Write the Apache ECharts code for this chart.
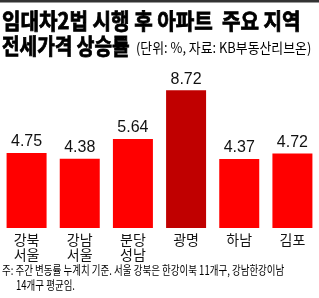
<!DOCTYPE html>
<html><head><meta charset="utf-8">
<style>html,body{margin:0;padding:0;background:#fff}#c{width:319px;height:298px}</style>
<script src="https://cdn.jsdelivr.net/npm/echarts@6/dist/echarts.min.js"></script>
</head><body><div id="c"></div>
<script>
const categories = ['강북\n서울', '강남\n서울', '분당\n성남', '광명', '하남', '김포'];
const values = [4.75, 4.38, 5.64, 8.72, 4.37, 4.72];
const highlight = '광명';
const titleLine1 = '임대차2법 시행 후 아파트  주요 지역';
const titleLine2 = '전세가격 상승률';
const subtitle = '(단위: %, 자료: KB부동산리브온)';
const note1 = '주: 주간 변동률 누계치 기준. 서울 강북은 한강이북 11개구, 강남한강이남';
const note2 = '14개구 평균임.';

const CJK = '"Noto Sans CJK KR", sans-serif';
const chart = echarts.init(document.getElementById('c'), null, {renderer: 'canvas'});
chart.setOption({
  animation: false,
  backgroundColor: '#fff',
  grid: {left: -3, width: 325, top: 70, height: 158, containLabel: false},
  xAxis: {
    type: 'category', data: categories,
    axisLine: {show: false}, axisTick: {show: false},
    axisLabel: {color: '#111', fontSize: 14, fontFamily: CJK, lineHeight: 15, margin: 4, interval: 0}
  },
  yAxis: {type: 'value', min: 0, max: 10, show: false, splitLine: {show: false}},
  series: [{
    type: 'bar', barWidth: 40,
    data: values.map((v, i) => ({value: v, itemStyle: {color: categories[i] === highlight ? '#C00000' : '#FF0000'}})),
    label: {show: true, position: 'top', distance: 3, color: '#111', fontSize: 16, fontFamily: '"Liberation Sans", Arial, sans-serif'}
  }],
  graphic: [
    {type: 'rect', shape: {x: 0, y: 0, width: 319, height: 2.5}, style: {fill: '#333'}},
    {type: 'text', x: 2, y: 21, scaleX: 0.915, style: {text: titleLine1, font: 'bold 22px ' + CJK, fill: '#000', stroke: '#000', lineWidth: 0.8, textVerticalAlign: 'middle'}},
    {type: 'text', x: 2, y: 45.5, scaleX: 0.87, style: {text: titleLine2, font: 'bold 22px ' + CJK, fill: '#000', stroke: '#000', lineWidth: 0.8, textVerticalAlign: 'middle'}},
    {type: 'text', x: 136, y: 47.5, scaleX: 0.92, style: {text: subtitle, font: '14px ' + CJK, fill: '#000', textVerticalAlign: 'middle'}},
    {type: 'text', x: 2, y: 270, scaleX: 0.76, style: {text: note1, font: '12.5px ' + CJK, fill: '#000', textVerticalAlign: 'middle'}},
    {type: 'text', x: 16, y: 285.5, scaleX: 0.76, style: {text: note2, font: '12.5px ' + CJK, fill: '#000', textVerticalAlign: 'middle'}}
  ]
});
</script></body></html>
